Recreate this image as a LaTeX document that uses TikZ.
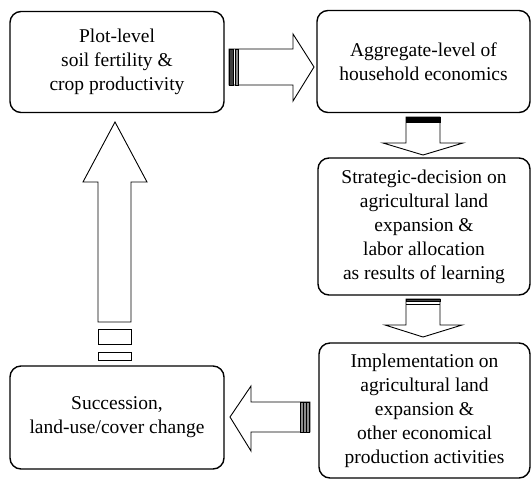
\documentclass[tikz,border=0pt]{standalone}
\usepackage{fontspec}
\setmainfont{Liberation Serif}
\newfontfamily\boxfont{Liberation Serif}
\usepackage{tikz}

\begin{document}
\begin{tikzpicture}[x=1pt,y=-1pt,
  stage/.style={draw,line width=1.4pt,rounded corners=11pt,inner sep=0pt,align=center,
    font=\boxfont\fontsize{19.5}{24}\selectfont},
  fatarrow/.style={draw,line width=0.9pt,fill=white,line join=miter},
  stripe/.style={draw,line width=0.6pt,fill=black!75}]
  \useasboundingbox (0,0) rectangle (532,480);
  \node[stage,minimum width=214pt,minimum height=101pt] (plot) at (117,62) {Plot-level\\soil fertility \&\\crop productivity};
  \node[stage,minimum width=213pt,minimum height=102pt] (aggregate) at (423.5,61.5) {Aggregate-level of\\household economics};
  \node[stage,minimum width=212pt,minimum height=137pt] (strategic) at (424,226.5) {Strategic-decision on\\agricultural land\\expansion \&\\labor allocation\\as results of learning};
  \node[stage,minimum width=211pt,minimum height=135pt] (implement) at (424.5,410.5) {Implementation on\\agricultural land\\expansion \&\\other economical\\production activities};
  \node[stage,minimum width=214pt,minimum height=103pt] (succession) at (117,417.5) {Succession,\\land-use/cover change};
  % plot -> aggregate
  \draw[fatarrow] (229,49) -- (293,49) -- (293,34) -- (314,67) -- (293,101) -- (293,85) -- (229,85) -- cycle;
  \draw[stripe] (229,49) rectangle (233,85);
  \draw[stripe,fill=black!45] (235.5,49) rectangle (238,85);
  % aggregate -> strategic
  \draw[fatarrow] (406,117) -- (406,143) -- (383,143) -- (423,155) -- (463,143) -- (440,143) -- (440,117) -- cycle;
  \draw[stripe,fill=black] (406,117) rectangle (440,122);
  % strategic -> implement
  \draw[fatarrow] (406,299) -- (406,325) -- (385,325) -- (423,337) -- (462,325) -- (440,325) -- (440,299) -- cycle;
  \draw[stripe] (406,299) rectangle (440,301.5);
  \draw[line width=0.6pt] (406,304) -- (440,304);
  % implement -> succession
  \draw[fatarrow] (310,402) -- (251,402) -- (251,386) -- (230,417) -- (251,451) -- (251,432) -- (310,432) -- cycle;
  \draw[stripe,fill=black!45] (300,402) rectangle (309,432);
  \draw[line width=0.6pt] (303,402) -- (303,432) (306,402) -- (306,432);
  % succession -> plot
  \draw[fatarrow] (98,322) -- (98,182) -- (83,182) -- (115,122) -- (147,182) -- (131,182) -- (131,322) -- cycle;
  \draw[fatarrow] (98,329) rectangle (131,344);
  \draw[fatarrow] (98,352) rectangle (131,360);
\end{tikzpicture}
\end{document}
